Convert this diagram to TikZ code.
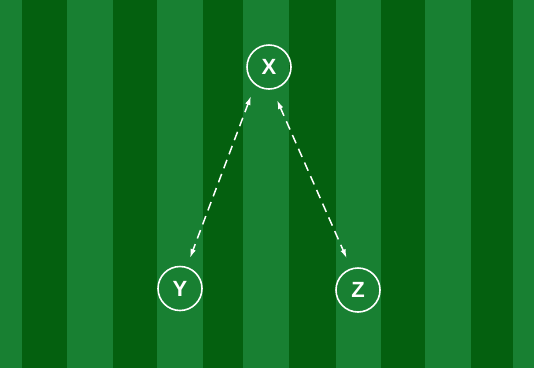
\documentclass[tikz,border=0pt]{standalone}
\usepackage{fontspec}
\setmainfont{Liberation Sans}
\usetikzlibrary{arrows.meta}
\definecolor{lightgreen}{RGB}{24,128,50}
\definecolor{darkgreen}{RGB}{4,96,15}
\tikzset{
  vertex/.style={circle, draw=white, line width=1.6pt, minimum size=44pt, inner sep=0pt, text=white, font=\fontsize{22}{22}\selectfont\bfseries},
  link/.style={draw=white, line width=1.5pt, dash pattern=on 9pt off 6pt, {Latex[length=9pt,width=5.5pt]}-{Latex[length=9pt,width=5.5pt]}},
  darkstripe/.style={fill=darkgreen}
}
\begin{document}
\begin{tikzpicture}[x=1pt, y=-1pt]
\useasboundingbox (0,0) rectangle (534,368);
\fill[lightgreen] (0,0) rectangle (534,368);
\foreach \a/\b in {22/67,113/157,203/243,289/336,381/425,471/513}{
  \fill[darkstripe] (\a,0) rectangle (\b,368);
}
\node[vertex] (X) at (269,67) {X};
\node[vertex] (Y) at (180,288.5) {Y};
\node[vertex] (Z) at (358,290) {Z};
\draw[link] ([shift={(-18,29)}]X.center) -- ([shift={(10,-30.5)}]Y.center);
\draw[link] ([shift={(8,33)}]X.center) -- ([shift={(-11.3,-31.7)}]Z.center);
\end{tikzpicture}
\end{document}
